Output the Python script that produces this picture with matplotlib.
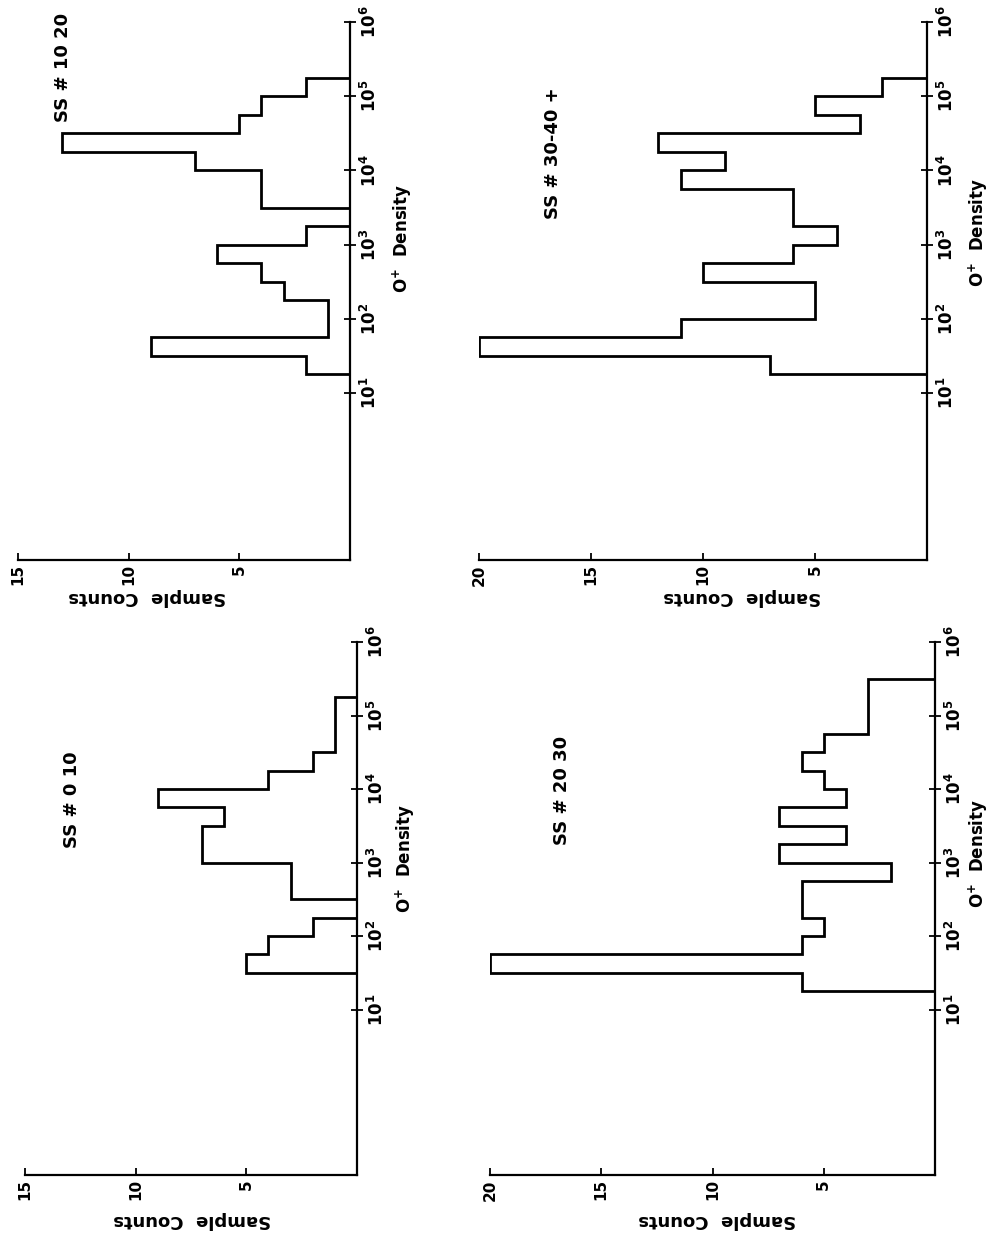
import numpy as np
import matplotlib.pyplot as plt
from matplotlib.ticker import NullLocator

plt.rcParams['font.family'] = 'DejaVu Sans'
plt.rcParams['font.weight'] = 'bold'

# log10 of the O+ density bin edges (quarter decades)
edge_exp = [1.25, 1.5, 1.75, 2.0, 2.25, 2.5, 2.75, 3.0, 3.25, 3.5, 3.75,
            4.0, 4.25, 4.5, 4.75, 5.0, 5.25, 5.5]

# sample counts per bin, one list per SS group
counts_0_10 = [0, 5, 4, 2, 0, 3, 3, 7, 7, 6, 9, 4, 2, 1, 1, 1]
counts_10_20 = [2, 9, 1, 1, 3, 4, 6, 2, 0, 4, 4, 7, 13, 5, 4, 2]
counts_20_30 = [6, 20, 6, 5, 6, 6, 2, 7, 4, 7, 4, 5, 6, 5, 3, 3, 3]
counts_30_40 = [7, 20, 11, 5, 5, 10, 6, 4, 6, 6, 11, 9, 12, 3, 5, 2]

titles = ['SS # 10 20', 'SS # 30-40 +', 'SS # 0 10', 'SS # 20 30']
all_counts = [counts_10_20, counts_30_40, counts_0_10, counts_20_30]
count_max = [15, 20, 15, 20]
count_ticks = {15: [5, 10, 15], 20: [5, 10, 15, 20]}
density_exp = [1, 2, 3, 4, 5, 6]

W, H = 991, 1240
# page is turned a quarter turn: counts run right-to-left, density bottom-to-top
# panel boxes in pixels: left, top, right, bottom
boxes = [(18, 22, 350, 560), (479, 22, 927, 560),
         (25, 642, 357, 1175), (490, 642, 935, 1175)]
title_pos = [(63, 67), (553, 153), (72, 800), (562, 790)]
dens_label_pos = [(402, 238), (978, 232), (405, 858), (978, 853)]
count_label_pos = [(147, 597), (742, 597), (192, 1220), (717, 1220)]

fig = plt.figure(figsize=(W / 100, H / 100), dpi=100)

for i in range(4):
    l, t, r, b = boxes[i]
    ax = fig.add_axes([l / W, 1 - b / H, (r - l) / W, (b - t) / H])
    vals = all_counts[i]
    edges = 10.0 ** np.array(edge_exp[:len(vals) + 1])
    ax.stairs(vals, edges, orientation='horizontal', baseline=0,
              color='black', linewidth=2.0)

    ax.set_yscale('log')
    ax.set_ylim(10 ** -1.25, 10 ** 6)
    ax.set_xlim(count_max[i], 0)

    for s in ['top', 'left']:
        ax.spines[s].set_visible(False)
    for s in ['bottom', 'right']:
        ax.spines[s].set_linewidth(1.6)

    ax.yaxis.set_minor_locator(NullLocator())
    ax.set_yticks([10.0 ** k for k in density_exp])
    ax.set_yticklabels([r'$\mathbf{10^{%d}}$' % k for k in density_exp],
                       rotation=90, va='center', fontsize=12)
    ax.tick_params(axis='y', direction='inout', length=8, width=1.3,
                   left=False, right=True, labelleft=False, labelright=True, pad=3)

    ticks = count_ticks[count_max[i]]
    ax.set_xticks(ticks)
    ax.set_xticklabels([str(v) for v in ticks], rotation=90, fontsize=11,
                       fontweight='bold')
    ax.tick_params(axis='x', direction='in', length=5, width=1.3, pad=3)

    tx, ty = title_pos[i]
    fig.text(tx / W, 1 - ty / H, titles[i], rotation=90, ha='center', va='center',
             fontsize=13, fontweight='bold')
    dx, dy = dens_label_pos[i]
    fig.text(dx / W, 1 - dy / H, 'O$^{\\mathbf{+}}$  Density', rotation=90,
             ha='center', va='center', fontsize=12, fontweight='bold')
    cx, cy = count_label_pos[i]
    fig.text(cx / W, 1 - cy / H, 'Sample  Counts', rotation=180, ha='center',
             va='center', fontsize=13, fontweight='bold')

fig.savefig('out.png', dpi=100)
